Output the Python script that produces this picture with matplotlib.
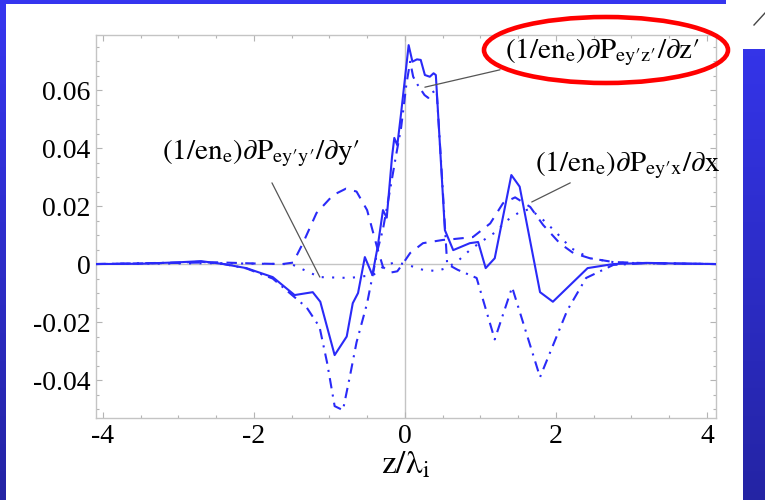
import numpy as np
import matplotlib
matplotlib.use("Agg")
import matplotlib.pyplot as plt
from matplotlib.patches import Ellipse
from matplotlib.ticker import MultipleLocator
from matplotlib.colors import LinearSegmentedColormap

plt.rcParams['font.family'] = ['Liberation Serif', 'DejaVu Serif']
plt.rcParams['mathtext.fontset'] = 'stix'
plt.rcParams['axes.unicode_minus'] = False

# total (solid)
z_tot = [-4.1, -3.5, -3.0, -2.7, -2.4, -2.1, -1.75, -1.46, -1.22, -1.12, -0.93, -0.77,
         -0.69, -0.62, -0.53, -0.43, -0.36, -0.29, -0.24, -0.17, -0.14, -0.10, -0.05,
         0.05, 0.10, 0.16, 0.21, 0.265, 0.33, 0.38, 0.41, 0.53, 0.64, 0.86, 0.97, 1.07,
         1.19, 1.41, 1.52, 1.79, 1.96, 2.42, 2.76, 3.2, 3.6, 4.12]
y_tot = [0.0, 0.0001, 0.0006, 0.001, 0.0, -0.0014, -0.0045, -0.0107, -0.0097, -0.013,
         -0.0314, -0.025, -0.0135, -0.010, 0.0024, -0.0038, 0.006, 0.0186, 0.016, 0.037,
         0.0435, 0.041, 0.052, 0.0755, 0.0698, 0.0706, 0.0704, 0.0652, 0.0646, 0.0658,
         0.0652, 0.0117, 0.0048, 0.0072, 0.0076, -0.0014, 0.002, 0.0307, 0.0267, -0.0097,
         -0.013, -0.0014, 0.0, 0.0004, 0.0002, 0.0]

# z'z' term (dash-dot)
z_zz = [-4.1, -3.0, -2.7, -2.4, -2.1, -1.75, -1.48, -1.3, -1.13, -1.03, -0.93, -0.82,
        -0.73, -0.64, -0.5, -0.42, -0.36, -0.29, -0.2, -0.12, -0.05, 0.02, 0.07, 0.11,
        0.17, 0.26, 0.31, 0.35, 0.42, 0.48, 0.56, 0.7, 0.95, 1.19, 1.42, 1.79, 2.15,
        2.4, 2.76, 3.2, 4.12]
y_zz = [0.0, 0.0005, 0.0008, 0.0, -0.0015, -0.005, -0.011, -0.015, -0.0217, -0.034,
        -0.049, -0.0504, -0.039, -0.027, -0.0135, -0.003, 0.005, 0.012, 0.025, 0.037,
        0.047, 0.062, 0.0698, 0.0646, 0.0618, 0.0583, 0.0573, 0.059, 0.060, 0.035, 0.0,
        -0.002, -0.0048, -0.026, -0.008, -0.039, -0.016, -0.0048, -0.0003, 0.0003, 0.0]

# x term (dashed)
z_x = [-4.1, -3.0, -2.5, -2.0, -1.62, -1.48, -1.35, -1.17, -0.95, -0.78, -0.64, -0.5,
       -0.37, -0.29, -0.2, -0.1, -0.03, 0.07, 0.24, 0.5, 0.64, 0.9, 1.13, 1.3, 1.46,
       1.66, 1.83, 2.05, 2.23, 2.45, 2.76, 3.2, 4.12]
y_x = [0.0, 0.0004, 0.0006, 0.0002, 0.0, 0.0005, 0.0072, 0.0176, 0.0238, 0.026, 0.025,
       0.0186, 0.006, -0.001, -0.003, -0.0025, 0.0, 0.0038, 0.0072, 0.0083, 0.0086,
       0.0093, 0.014, 0.021, 0.023, 0.0197, 0.0135, 0.0072, 0.0038, 0.002, 0.0007,
       0.0003, 0.0]

# y'y' term (dotted)
z_yy = [-4.1, -2.5, -1.6, -1.48, -1.13, -0.73, -0.42, -0.29, -0.15, 0.0, 0.24, 0.42,
        0.55, 0.7, 0.86, 1.0, 1.2, 1.35, 1.5, 1.65, 1.8, 2.0, 2.2, 2.45, 2.8, 3.3, 4.12]
y_yy = [0.0, 0.0003, 0.0, -0.0003, -0.0045, -0.0048, -0.0038, -0.001, 0.0005, 0.0,
        -0.002, -0.0024, -0.0014, 0.001, 0.0048, 0.0075, 0.011, 0.015, 0.0176, 0.019,
        0.016, 0.011, 0.0055, 0.002, 0.0005, 0.0002, 0.0]

xticks = [-4, -2, 0, 2, 4]
xtick_labels = ['-4', '-2', '0', '2', '4']
yticks = [-0.04, -0.02, 0, 0.02, 0.04, 0.06]
ytick_labels = ['-0.04', '-0.02', '0', '0.02', '0.04', '0.06']

W, H = 765, 500
fig = plt.figure(figsize=(W / 100, H / 100), dpi=100)
fig.patch.set_facecolor('white')

# blue slide background strips
cmap = LinearSegmentedColormap.from_list('slide', ['#2424a4', '#3636f0'])
grad = np.linspace(0, 1, 256).reshape(-1, 1)


def strip(x0, y0, w, h):
    a = fig.add_axes([x0 / W, y0 / H, w / W, h / H])
    a.imshow(grad, aspect='auto', cmap=cmap, origin='lower',
             extent=[0, 1, 0, H], vmin=0, vmax=1)
    a.set_ylim(y0, y0 + h)
    a.set_xlim(0, 1)
    a.axis('off')


strip(0, 0, 6, H)
strip(0, H - 4, 726, 4)
strip(743, 0, 22, 451)

fig.add_artist(plt.Line2D([754 / W, 765 / W], [1 - 25 / H, 1 - 13 / H],
                          color='#444444', lw=1))

ax = fig.add_axes([96 / W, 1 - 418 / H, 620 / W, 383 / H])
ax.set_xlim(-4.09, 4.12)
ax.set_ylim(-0.0531, 0.079)

ax.axhline(0, color='#c4c4c4', lw=1, zorder=1)
ax.axvline(0, color='#c4c4c4', lw=1, zorder=1)

blue = '#2a2af8'
ax.plot(z_tot, y_tot, color=blue, lw=1.5, zorder=3)
ax.plot(z_zz, y_zz, color=blue, lw=1.5, ls=(0, (5, 3, 1, 3)), zorder=3)
ax.plot(z_x, y_x, color=blue, lw=1.5, ls=(0, (5, 4)), zorder=3)
ax.plot(z_yy, y_yy, color=blue, lw=1.5, ls=(0, (1, 4)), zorder=3)

ax.set_xticks(xticks)
ax.set_xticklabels(xtick_labels)
ax.set_yticks(yticks)
ax.set_yticklabels(ytick_labels)
ax.xaxis.set_minor_locator(MultipleLocator(0.5))
ax.yaxis.set_minor_locator(MultipleLocator(0.005))
ax.tick_params(which='both', direction='in', top=True, right=True,
               color='#b4b4b4', width=0.8, labelsize=20, pad=4)
ax.tick_params(which='major', length=4)
ax.tick_params(which='minor', length=2)
for s in ax.spines.values():
    s.set_color('#c4c4c4')
    s.set_linewidth(1)

ax.set_xlabel(r'$\mathrm{z/\lambda_i}$', fontsize=24, labelpad=1)

lead = dict(arrowstyle='-', color='#555555', lw=0.9, shrinkA=0, shrinkB=0)
ax.annotate('', xy=(0.265, 0.061), xytext=(1.26, 0.067), arrowprops=lead)
ax.annotate('', xy=(-1.126, -0.0045), xytext=(-1.76, 0.028), arrowprops=lead)
ax.annotate('', xy=(1.68, 0.0214), xytext=(2.19, 0.028), arrowprops=lead)

lab_kw = dict(fontsize=21, ha='center', va='center', clip_on=False, zorder=5)
ax.text(2.62, 0.0731,
        r'$\mathrm{(1/en_e)}\partial\mathrm{P_{ey\prime z\prime}/}\partial\mathrm{z\prime}$',
        **lab_kw)
ax.text(-1.91, 0.0383,
        r'$\mathrm{(1/en_e)}\partial\mathrm{P_{ey\prime y\prime}/}\partial\mathrm{y\prime}$',
        **lab_kw)
ax.text(2.95, 0.0342,
        r'$\mathrm{(1/en_e)}\partial\mathrm{P_{ey\prime x}/}\partial\mathrm{x}$',
        **lab_kw)

fig.add_artist(Ellipse((606 / W, 1 - 50 / H), 244 / W, 66 / H,
                       transform=fig.transFigure, fill=False,
                       edgecolor='#ff0000', lw=3.3, zorder=10))

fig.savefig('out.png', dpi=100)
